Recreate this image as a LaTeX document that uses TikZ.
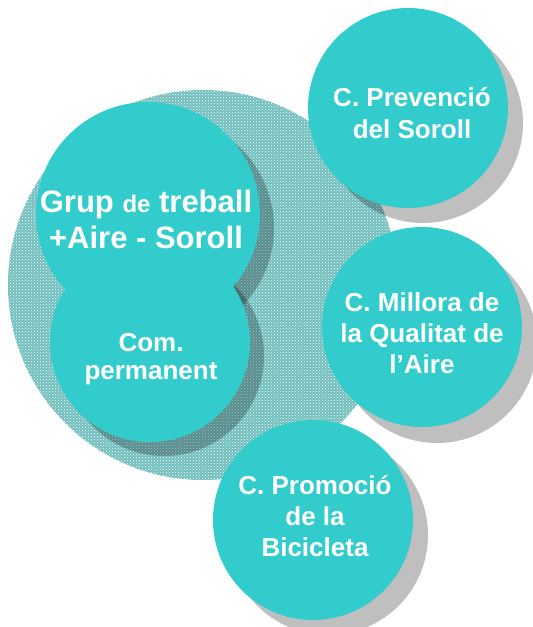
\documentclass[tikz,border=0pt]{standalone}
\usepackage{fontspec}
\setmainfont{Liberation Sans}
\usetikzlibrary{patterns}
\definecolor{tealc}{RGB}{51,204,204}
\definecolor{bgteal}{RGB}{112,190,190}
\tikzset{
  bubble/.style={circle, fill=tealc, inner sep=0pt, minimum size=#1},
  shade/.style={circle, fill=black, fill opacity=0.25, inner sep=0pt, minimum size=#1},
  lbl/.style={text=white, font=\bfseries, align=center, inner sep=0pt},
}
\begin{document}
\begin{tikzpicture}[x=1pt,y=-1pt]
\useasboundingbox (0,0) rectangle (533,627);
% background patterned circle
\fill[bgteal] (203,285) circle (195);
\fill[pattern=crosshatch dots, pattern color=white] (203,285) circle (195);
% shadows of the central pair
\node[shade=224pt] (grupS) at (162,228) {};
\node[shade=200pt] (comS) at (164,356) {};
% Com. permanent and Grup de treball
\node[bubble=200pt] (com) at (150,342) {};
\node[bubble=224pt] (grup) at (148,214) {};
% C. Prevencio
\node[shade=200pt] (prevS) at (423,123) {};
\node[bubble=200pt] (prev) at (408,108) {};
% C. Millora
\node[shade=200pt] (millS) at (437,343) {};
\node[bubble=200pt] (mill) at (422,327) {};
% C. Promocio
\node[shade=200pt] (promS) at (328,535) {};
\node[bubble=200pt] (prom) at (313,520) {};
% labels
\node[lbl, font=\bfseries\fontsize{31}{36}\selectfont] (tgrup) at (146,219)
  {Grup {\fontsize{24}{36}\selectfont de} treball\\+Aire - Soroll};
\node[lbl, font=\bfseries\fontsize{26}{28}\selectfont] (tcom) at (151,359)
  {Com.\\permanent};
\node[lbl, font=\bfseries\fontsize{26}{32}\selectfont] (tprev) at (412,113)
  {C. Prevenció\\del Soroll};
\node[lbl, font=\bfseries\fontsize{26}{31}\selectfont] (tmill) at (422,333)
  {C. Millora de\\la Qualitat de\\l’Aire};
\node[lbl, font=\bfseries\fontsize{26}{31}\selectfont] (tprom) at (315,516)
  {C. Promoció\\de la\\Bicicleta};
\end{tikzpicture}
\end{document}
